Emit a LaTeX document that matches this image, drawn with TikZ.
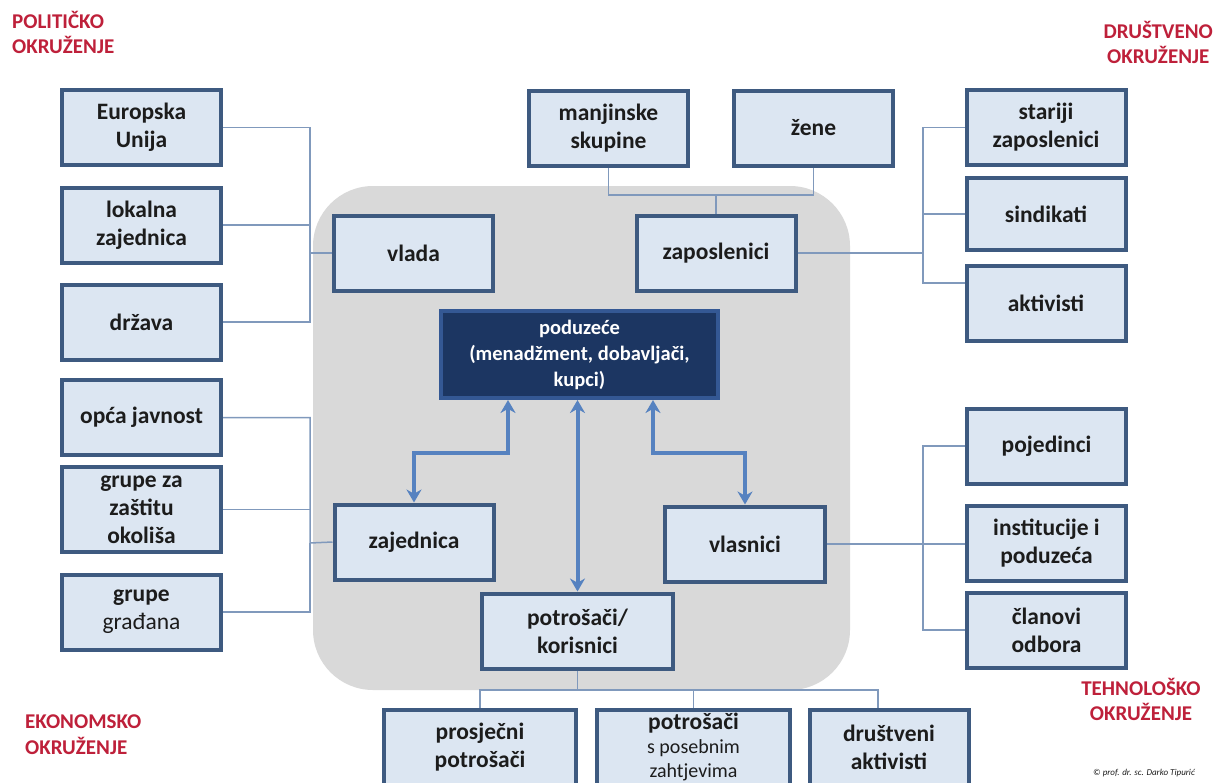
\documentclass[tikz,border=0pt]{standalone}
\usepackage{fontspec}
\setmainfont{Carlito}
\usetikzlibrary{arrows.meta}
\definecolor{boxfill}{RGB}{220,230,242}
\definecolor{boxline}{RGB}{62,90,128}
\definecolor{podfill}{RGB}{28,54,98}
\definecolor{podline}{RGB}{52,88,148}
\definecolor{linkblue}{RGB}{128,153,188}
\definecolor{flowblue}{RGB}{86,130,192}
\definecolor{backgray}{RGB}{217,217,217}
\definecolor{textdark}{RGB}{28,28,28}
\definecolor{envred}{RGB}{190,32,58}

\begin{document}
\begin{tikzpicture}
[every node/.style={inner sep=0pt, text=textdark, font=\fontsize{23.5}{28}\selectfont\bfseries},
 stake/.style={rectangle, minimum width=159pt, minimum height=75pt, fill=boxfill, line width=4pt, draw=boxline, align=center},
 core/.style={rectangle, minimum width=277pt, minimum height=87pt, fill=podfill, line width=4pt, draw=podline, align=center, text=white, font=\fontsize{20.5}{26}\selectfont\bfseries},
 env/.style={text=envred, align=center, font=\fontsize{21}{25.5}\selectfont\bfseries},
 link/.style={line width=1.5pt, color=linkblue},
 flow/.style={line width=4pt, color=flowblue, {Stealth[length=13pt,width=15pt]}-{Stealth[length=13pt,width=15pt]}}]
\useasboundingbox (0pt,0pt) rectangle (1213pt,-782pt);
\fill [backgray, rounded corners=60pt] (313pt,-186pt) rectangle (850pt,-690pt);
\node (polit) [env, align=left, anchor=north west] at (12pt, -11pt) {POLITIČKO\\OKRUŽENJE};
\node (drustv) [env, anchor=north east] at (1213pt, -21pt) {DRUŠTVENO\\OKRUŽENJE};
\node (tehno) [env, anchor=north] at (1141pt, -678pt) {TEHNOLOŠKO\\OKRUŽENJE};
\node (ekon) [env, align=left, anchor=north west] at (25pt, -715pt) {EKONOMSKO\\OKRUŽENJE};
\node (autor) [anchor=west, text=textdark, font=\fontsize{9}{11}\selectfont\itshape] at (1093pt, -773pt) {© prof. dr. sc. Darko Tipurić};
\node (eu) [stake] at (141.5pt, -127.5pt) {Europska\\Unija};
\node (lok) [stake] at (141.5pt, -225.0pt) {lokalna\\zajednica};
\node (drz) [stake] at (141.5pt, -322.0pt) {država};
\node (opca) [stake] at (141.5pt, -417.5pt) {opća javnost};
\node (zast) [stake, minimum height=85pt] at (141.5pt, -509.5pt) {grupe za\\zaštitu\\okoliša};
\node (grad) [stake] at (141.5pt, -612.0pt) {grupe\\\mdseries građana};
\node (vlada) [stake] at (413.5pt, -253.0pt) {vlada};
\node (zaj) [stake] at (414.0pt, -542.0pt) {zajednica};
\node (manj) [stake] at (608.5pt, -128.0pt) {manjinske\\skupine};
\node (zene) [stake] at (813.5pt, -128.0pt) {žene};
\node (zap) [stake] at (716.0pt, -253.0pt) {zaposlenici};
\node (star) [stake] at (1046.0pt, -127.5pt) {stariji\\zaposlenici};
\node (sind) [stake, minimum height=72pt] at (1046.0pt, -214.0pt) {sindikati};
\node (akt) [stake] at (1046.0pt, -303.0pt) {aktivisti};
\node (poj) [stake] at (1046.5pt, -446.0pt) {pojedinci};
\node (inst) [stake] at (1046.5pt, -543.0pt) {institucije i\\poduzeća};
\node (clan) [stake] at (1046.5pt, -630.0pt) {članovi\\odbora};
\node (vlas) [stake, minimum width=160pt] at (745.0pt, -544.0pt) {vlasnici};
\node (pod) [core] at (579.5pt, -354.5pt) {poduzeće\\(menadžment, dobavljači,\\kupci)};
\node (potr) [stake, minimum width=191pt] at (577.5pt, -631.0pt) {potrošači/\\korisnici};
\node (pros) [stake, minimum width=192pt] at (480.0pt, -747.0pt) {prosječni\\potrošači};
\node (pos) [stake, minimum width=193pt, font=\fontsize{23.5}{24}\selectfont\bfseries] at (693.5pt, -747.0pt) {potrošači\\\fontsize{20}{23}\selectfont\mdseries s posebnim\\\fontsize{20}{23}\selectfont\mdseries zahtjevima};
\node (drus) [stake] at (889.0pt, -747.0pt) {društveni\\aktivisti};
\coordinate (lbus) at (310pt, -253pt);
\coordinate (lbus2) at (310pt, -543pt);
\coordinate (tbus) at (716pt, -195pt);
\coordinate (rbus) at (923pt, -253pt);
\coordinate (rbus2) at (923pt, -543pt);
\coordinate (bbus) at (577.5pt, -690pt);
\draw [link] (eu.east) -| (lbus) -- (vlada.west);
\draw [link] (lok.east) -- (lok.east -| lbus);
\draw [link] (drz.east) -| (lbus);
\draw [link] (opca.east) -| (lbus2) -- (zaj.west);
\draw [link] (zast.east) -- (zast.east -| lbus2);
\draw [link] (grad.east) -| (lbus2);
\draw [link] (manj.south) |- (tbus) -| (zene.south);
\draw [link] (tbus) -- (zap.north);
\draw [link] (zap.east) -- (rbus);
\draw [link] (star.west) -| (rbus);
\draw [link] (sind.west) -- (sind.west -| rbus);
\draw [link] ([yshift=20pt]akt.west) -| (rbus);
\draw [link] (vlas.east) -- (vlas.east -| inst.west);
\draw [link] (poj.west) -| (rbus2);
\draw [link] (clan.west) -| (rbus2);
\draw [link] (potr.south) -- (bbus);
\draw [link] (pros.north) |- (bbus) -| ([xshift=-11pt]drus.north);
\draw [link] (pos.north) -- (pos.north |- bbus);
\draw [flow] ([xshift=-71.5pt]pod.south) -- ++(0pt,-53pt) -| (zaj.north);
\draw [flow] (pod.south -| potr.north) -- (potr.north);
\draw [flow] ([xshift=73.5pt]pod.south) -- ++(0pt,-53pt) -| (vlas.north);
\end{tikzpicture}
\end{document}
